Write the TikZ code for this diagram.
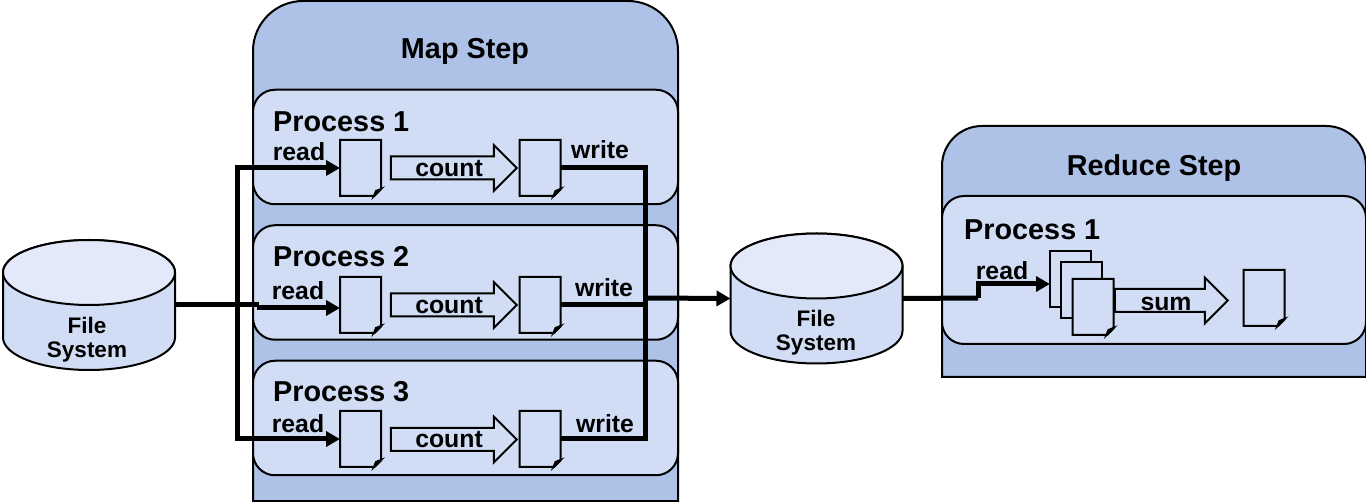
\documentclass[tikz,border=0pt]{standalone}
\usepackage{fontspec}
\setmainfont{Liberation Sans}
\usetikzlibrary{arrows.meta,shapes.arrows,shapes.misc}
\definecolor{stepfill}{HTML}{AEC2E8}
\definecolor{procfill}{HTML}{D1DDF4}
\definecolor{capfill}{HTML}{E3E9F8}
\tikzstyle{stepbox}=[draw=black,fill=stepfill,line width=2pt]
\tikzstyle{procbox}=[draw=black,fill=procfill,line width=2pt,rectangle,rounded corners=22pt,minimum width=425pt,minimum height=114.5pt,outer sep=0pt,inner sep=0pt]
\tikzstyle{docu}=[draw=black,fill=procfill,line width=2pt,chamfered rectangle,chamfered rectangle corners=south east,chamfered rectangle xsep=7pt,chamfered rectangle ysep=7pt,minimum width=41pt,minimum height=56pt,outer sep=0pt]
\tikzstyle{sheet}=[draw=black,fill=procfill,line width=2pt,rectangle,minimum width=41pt,minimum height=56pt,outer sep=0pt,inner sep=0pt]
\tikzstyle{bigarrow}=[draw=black,fill=procfill,line width=2pt,single arrow,single arrow tip angle=90,single arrow head extend=11.5pt,minimum height=126pt,inner xsep=0pt,inner ysep=10.5pt,outer sep=0pt]
\tikzstyle{disk}=[rectangle,minimum width=172pt,minimum height=130pt,outer sep=0pt,inner sep=0pt]
\tikzstyle{wire}=[line width=5pt,draw=black]
\tikzstyle{flow}=[wire,-{Triangle[length=14pt,width=15pt]}]
\tikzstyle{title}=[font=\fontsize{28.8}{32}\selectfont\bfseries,inner sep=0pt]
\tikzstyle{action}=[font=\fontsize{24.8}{28}\selectfont\bfseries,inner sep=0pt]
\tikzstyle{store}=[font=\fontsize{22.5}{24}\selectfont\bfseries,inner sep=0pt,align=center]
\newcommand{\fold}[1]{\draw[line width=2pt,fill=black!40] (#1.south -| #1.east) ++(-7,0) -- ++(2,-5) -- ++(5,-2) -- cycle;}
\newcommand{\diskbody}[1]{
\draw[line width=2pt,fill=procfill] (#1.north west) ++(0,32.5) -- ++(0,65) arc[start angle=180,end angle=360,x radius=86pt,y radius=32.5pt] -- ++(0,-65) arc[start angle=0,end angle=180,x radius=86pt,y radius=32.5pt] -- cycle;
\draw[line width=2pt,fill=capfill] (#1.north west) ++(0,32.5) arc[start angle=180,end angle=540,x radius=86pt,y radius=32.5pt] -- cycle;
}
\begin{document}
\begin{tikzpicture}[x=1pt,y=-1pt]
\useasboundingbox (0,0) rectangle (1366,502);
\draw[stepbox] (253,501) [rounded corners=50pt] -- (253,1) -- (678,1) [sharp corners] -- (678,501) -- cycle;
\draw[stepbox] (942,377) [rounded corners=40pt] -- (942,126) -- (1366,126) [sharp corners] -- (1366,377) -- cycle;
\node[title] (mapstep) at (465,51) {Map Step};
\node[title] (redstep) at (1154,168) {Reduce Step};
\node[procbox] (proc1) at (465.5,147) {};
\node[procbox] (proc2) at (465.5,282.5) {};
\node[procbox] (proc3) at (465.5,418) {};
\node[procbox,minimum width=424pt,minimum height=148pt] (proc4) at (1154,270) {};
\node[title,anchor=west] (name1) at (273,122) {Process 1};
\node[title,anchor=west] (name2) at (273,257) {Process 2};
\node[title,anchor=west] (name3) at (273,392) {Process 3};
\node[title,anchor=west] (name4) at (964,230) {Process 1};
\node[docu] (d1a) at (360.5,168) {};
\node[docu] (d1b) at (540,168) {};
\node[docu] (d2a) at (360.5,305) {};
\node[docu] (d2b) at (540,305) {};
\node[docu] (d3a) at (360.5,439) {};
\node[docu] (d3b) at (540,439) {};
\node[sheet] (d4a) at (1070.5,279.5) {};
\node[sheet] (d4b) at (1081.5,290.5) {};
\node[docu] (d4c) at (1093,307) {};
\node[docu] (d4d) at (1264,298) {};
\fold{d1a}
\fold{d1b}
\fold{d2a}
\fold{d2b}
\fold{d3a}
\fold{d3b}
\fold{d4c}
\fold{d4d}
\node[bigarrow] (cnt1) at (448,168) {};
\node[bigarrow] (cnt2) at (448,305) {};
\node[bigarrow] (cnt3) at (448,439.5) {};
\node[bigarrow,minimum height=113pt] (add1) at (1165.5,300.5) {};
\node[action] (cntlab1) at (449,169) {count};
\node[action] (cntlab2) at (449,306) {count};
\node[action] (cntlab3) at (449,440) {count};
\node[action] (addlab) at (1166,304) {sum};
\node[action] (rd1) at (299,152) {read};
\node[action] (rd2) at (298,291) {read};
\node[action] (rd3) at (298,424) {read};
\node[action] (rd4) at (1002,271) {read};
\node[action] (wr1) at (600,150) {write};
\node[action] (wr2) at (604,288) {write};
\node[action] (wr3) at (605,424) {write};
\node[disk] (fs1) at (89,305) {};
\node[disk] (fs2) at (816.5,298.5) {};
\diskbody{fs1}
\diskbody{fs2}
\node[store] (fslab1) at (87,340) {File\\System};
\node[store] (fslab2) at (816,333) {File\\System};
\coordinate (splitl) at (237,305);
\coordinate (jogl) at (259,305);
\coordinate (busr) at (645.5,298);
\coordinate (jogr) at (978,298);
\draw[wire] (fs1.east) -- (jogl);
\draw[flow] (jogl) |- ([yshift=-3pt]d2a.west);
\draw[flow] (splitl) |- (d1a.west);
\draw[flow] (splitl) |- (d3a.west);
\draw[wire] (d1b.east) -| (busr);
\draw[wire] (d3b.east) -| (busr);
\draw[wire] (d2b.east) -| (busr);
\draw[flow] (busr) -- (fs2.west);
\draw[wire] (fs2.east) -- (jogr);
\draw[flow] (jogr) |- ([yshift=-4.5pt]d4a.west);
\end{tikzpicture}
\end{document}
